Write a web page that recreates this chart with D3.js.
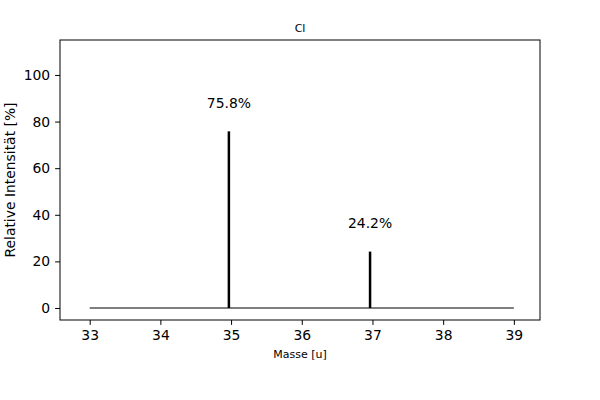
<!DOCTYPE html>
<html>
<head>
<meta charset="utf-8">
<script src="https://cdn.jsdelivr.net/npm/d3@7"></script>
<style>
  body { margin: 0; background: #fff; }
  text { font-family: "DejaVu Sans", sans-serif; fill: #000; }
</style>
</head>
<body>
<script>
"use strict"

const masses = [34.969, 36.966];
const abundances = [75.8, 24.2];
const massRange = [33, 39];
const xTicks = [33, 34, 35, 36, 37, 38, 39];
const yTicks = [0, 20, 40, 60, 80, 100];

const w = 600, h = 400;
const padLeft = 60, padRight = 540, padTop = 40, padBottom = 320;

const svg = d3.select('body')
	.append('svg')
	.attr('width', w)
	.attr('height', h);

const xScale = d3.scaleLinear()
	.domain([32.58, 39.37])
	.range([padLeft, padRight]);

const yScale = d3.scaleLinear()
	.domain([-5.15, 115])
	.range([padBottom, padTop]);

// x axis
const xAxis = d3.axisBottom(xScale)
	.tickValues(xTicks)
	.tickFormat(d3.format('d'))
	.tickSizeInner(4.9)
	.tickSizeOuter(0)
	.tickPadding(4.9);

svg.append('g')
	.attr('transform', 'translate(0,' + padBottom + ')')
	.call(xAxis)
	.call(g => g.select('.domain').remove())
	.selectAll('text')
	.style('font-size', '13.9px');

// y axis
const yAxis = d3.axisLeft(yScale)
	.tickValues(yTicks)
	.tickSizeInner(4.9)
	.tickSizeOuter(0)
	.tickPadding(4.9);

svg.append('g')
	.attr('transform', 'translate(' + padLeft + ',0)')
	.call(yAxis)
	.call(g => g.select('.domain').remove())
	.selectAll('text')
	.style('font-size', '13.9px');

svg.selectAll('.tick line').attr('stroke', '#000').attr('stroke-width', 1);

// baseline
svg.append('line')
	.attr('x1', xScale(massRange[0]))
	.attr('x2', xScale(massRange[1]))
	.attr('y1', yScale(0))
	.attr('y2', yScale(0))
	.attr('stroke', '#000')
	.attr('stroke-width', 1.2);

// peaks
svg.selectAll('line.peak')
	.data(masses)
	.enter()
	.append('line')
	.attr('class', 'peak')
	.attr('x1', d => xScale(d))
	.attr('x2', d => xScale(d))
	.attr('y1', yScale(0))
	.attr('y2', (d, i) => yScale(abundances[i]))
	.attr('stroke', '#000')
	.attr('stroke-width', 2.5);

svg.selectAll('text.lbl')
	.data(masses)
	.enter()
	.append('text')
	.attr('class', 'lbl')
	.attr('x', d => xScale(d))
	.attr('y', (d, i) => yScale(abundances[i] + 10))
	.attr('text-anchor', 'middle')
	.style('font-size', '13.9px')
	.text((d, i) => abundances[i].toFixed(1) + '%');

// frame
svg.append('rect')
	.attr('x', padLeft)
	.attr('y', padTop)
	.attr('width', padRight - padLeft)
	.attr('height', padBottom - padTop)
	.attr('fill', 'none')
	.attr('stroke', '#000')
	.attr('stroke-width', 1);

// title & labels
svg.append('text')
	.attr('x', (padLeft + padRight) / 2)
	.attr('y', padTop - 8)
	.attr('text-anchor', 'middle')
	.style('font-size', '11px')
	.text('Cl');

svg.append('text')
	.attr('x', (padLeft + padRight) / 2)
	.attr('y', 358)
	.attr('text-anchor', 'middle')
	.style('font-size', '11px')
	.text('Masse [u]');

svg.append('text')
	.attr('transform', 'translate(15,' + ((padTop + padBottom) / 2) + ') rotate(-90)')
	.attr('text-anchor', 'middle')
	.style('font-size', '13.9px')
	.text('Relative Intensität [%]');
</script>
</body>
</html>
